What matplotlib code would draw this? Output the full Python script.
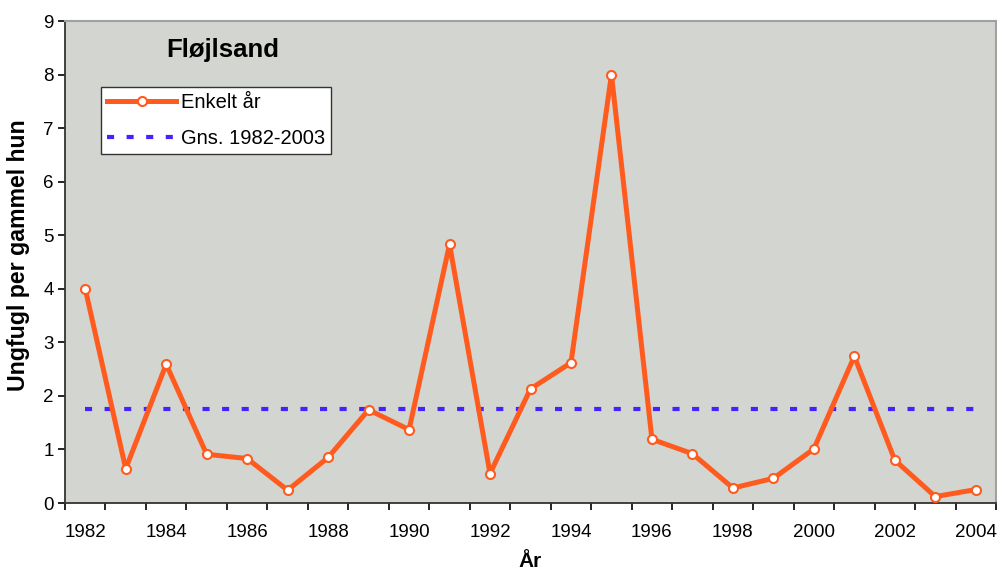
import matplotlib
matplotlib.use("Agg")
import matplotlib.pyplot as plt
import numpy as np
from matplotlib.ticker import FixedLocator

plt.rcParams['font.family'] = ['Liberation Sans', 'DejaVu Sans']

years = list(range(1982, 2005))
values = [4.0, 0.64, 2.59, 0.91, 0.83, 0.24, 0.85, 1.74, 1.37, 4.83, 0.55, 2.13,
          2.62, 8.0, 1.19, 0.92, 0.28, 0.46, 1.01, 2.74, 0.80, 0.12, 0.25]
avg_value = 1.76
title = "Fløjlsand"
series_labels = ["Enkelt år", "Gns. 1982-2003"]
xtick_labels = [str(y) for y in range(1982, 2005, 2)]

fig = plt.figure(figsize=(9.97, 5.73), dpi=100)
ax = fig.add_axes([65/997, 70/573, 931/997, 482/573])
ax.set_facecolor('#D3D5D0')

x = np.arange(len(years))
orange = '#FF5B1F'
ax.plot(x, [avg_value]*len(x), color='#4422FF', lw=3, ls=(0, (1.7, 3.0)),
        dash_capstyle='butt', label=series_labels[1], zorder=2)
ax.plot(x, values, color=orange, lw=3.6, marker='o', ms=6.5, mfc='white', mec=orange,
        mew=1.5, label=series_labels[0], zorder=3)

ax.set_xlim(-0.5, len(years) - 0.5)
ax.set_ylim(0, 9)
ax.set_yticks(range(0, 10))
ax.set_xticks(x[::2])
ax.set_xticklabels(xtick_labels)
ax.xaxis.set_minor_locator(FixedLocator(np.arange(-0.5, len(years), 1.0)))
ax.tick_params(axis='x', which='major', length=0, labelsize=13.5, pad=15)
ax.tick_params(axis='x', which='minor', length=5, width=1.2, direction='out')
ax.tick_params(axis='y', length=5, width=1.2, labelsize=13.5, pad=3)

for s in ['top', 'right']:
    ax.spines[s].set_color('#A0A0A0')
    ax.spines[s].set_linewidth(1.5)
for s in ['left', 'bottom']:
    ax.spines[s].set_color('#333333')
    ax.spines[s].set_linewidth(1.3)

ax.set_ylabel("Ungfugl per gammel hun", fontsize=16.7, fontweight='bold')
ax.yaxis.set_label_coords(-0.038, 0.515)
ax.set_xlabel("År", fontsize=15, fontweight='bold', labelpad=8)

ax.text(0.169, 0.94, title, transform=ax.transAxes, fontsize=18.5, fontweight='bold',
        ha='center', va='center')

h, l = ax.get_legend_handles_labels()
leg = ax.legend([h[1], h[0]], [l[1], l[0]], loc='upper left',
                bbox_to_anchor=(0.039, 0.863), fontsize=14.5, frameon=True,
                fancybox=False, edgecolor='#333333', framealpha=1, borderpad=0.3,
                handlelength=3.4, handletextpad=0.25, labelspacing=0.85, borderaxespad=0)
leg.get_frame().set_linewidth(1.0)

fig.savefig('out.png', dpi=100)
